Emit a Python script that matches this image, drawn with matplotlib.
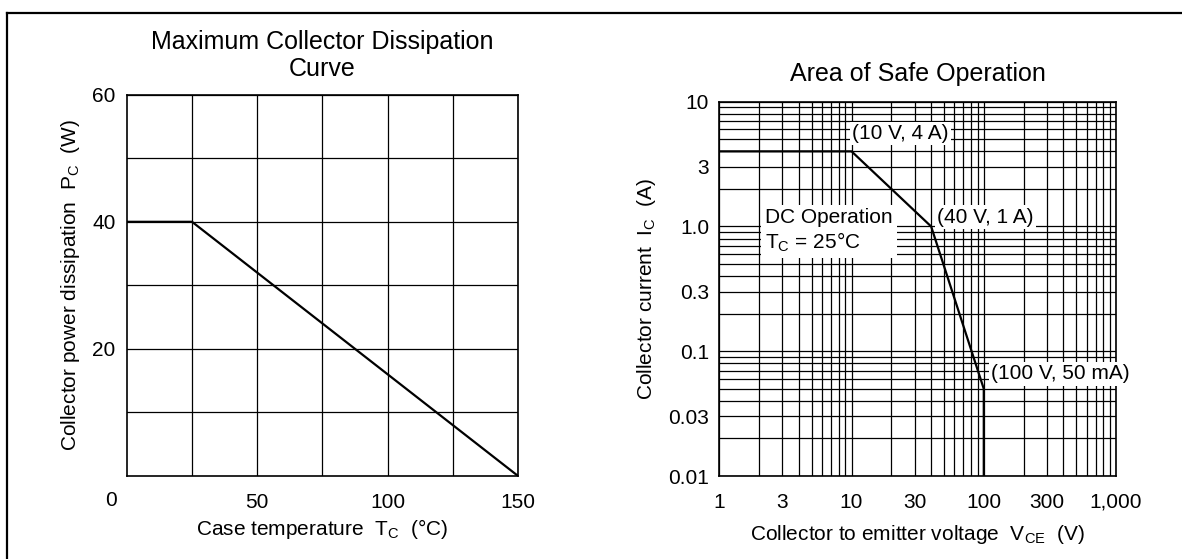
import matplotlib
matplotlib.use('Agg')
import matplotlib.pyplot as plt
from matplotlib.lines import Line2D
from matplotlib.ticker import FixedLocator, LogLocator, NullFormatter

plt.rcParams['font.family'] = ['Liberation Sans', 'DejaVu Sans']
plt.rcParams['mathtext.fontset'] = 'custom'
plt.rcParams['mathtext.rm'] = 'Liberation Sans'
plt.rcParams['mathtext.it'] = 'Liberation Sans:italic'
plt.rcParams['font.size'] = 15

# max collector dissipation curve
tc = [0, 25, 150]
pc = [40, 40, 0]
tc_ticks = [50, 100, 150]
pc_ticks = [20, 40, 60]

# safe operating area
vce = [1, 10, 40, 100, 100]
ic = [4, 4, 1, 0.05, 0.01]
vce_ticks = [1, 3, 10, 30, 100, 300, 1000]
vce_labels = ['1', '3', '10', '30', '100', '300', '1,000']
ic_ticks = [0.01, 0.03, 0.1, 0.3, 1.0, 3, 10]
ic_labels = ['0.01', '0.03', '0.1', '0.3', '1.0', '3', '10']
notes = [('(10 V, 4 A)', 10.15, 5.6),
         ('(40 V, 1 A)', 44.3, 1.19),
         ('(100 V, 50 mA)', 114, 0.0657)]

W, H = 1182, 559
fig = plt.figure(figsize=(W / 100, H / 100), dpi=100)

def px_axes(left, top, width, height):
    return fig.add_axes([left / W, (H - top - height) / H, width / W, height / H])

# frame lines of the page
fig.add_artist(Line2D([6.5 / W, 1], [1 - 12.5 / H] * 2, color='black', lw=1.6))
fig.add_artist(Line2D([6.5 / W] * 2, [0, 1 - 12.5 / H], color='black', lw=1.6))

# ---- left chart
ax1 = px_axes(126.8, 94.7, 391.3, 381.3)
ax1.plot(tc, pc, color='black', lw=1.6, zorder=3)
ax1.set_xlim(0, 150)
ax1.set_ylim(0, 60)
ax1.set_xticks(tc_ticks)
ax1.set_yticks(pc_ticks)
ax1.xaxis.set_minor_locator(FixedLocator([25, 75, 125]))
ax1.yaxis.set_minor_locator(FixedLocator([10, 30, 50]))
ax1.grid(True, which='both', color='black', lw=0.9)
ax1.tick_params(which='both', length=0)
ax1.tick_params(axis='x', pad=12)
ax1.tick_params(axis='y', pad=8)
ax1.annotate('0', xy=(0, 0), xycoords='axes fraction', xytext=(-11.7, -17.8),
             textcoords='offset points', ha='center', va='center')
ax1.set_title('Maximum Collector Dissipation\nCurve', pad=13.7, linespacing=1.14)
ax1.set_xlabel('Case temperature  T$_\\mathrm{C}$  (°C)')
ax1.set_ylabel('Collector power dissipation  P$_\\mathrm{C}$  (W)')
ax1.xaxis.label.set_verticalalignment('baseline')
ax1.yaxis.label.set_verticalalignment('center')
ax1.xaxis.set_label_coords(0.5, -0.1546)
ax1.yaxis.set_label_coords(-0.1436, 0.5)
for s in ax1.spines.values():
    s.set_linewidth(1.2)

# ---- right chart
ax2 = px_axes(719.3, 101.7, 396.7, 374.3)
ax2.plot(vce, ic, color='black', lw=1.6, zorder=3)
ax2.set_xscale('log')
ax2.set_yscale('log')
ax2.set_xlim(1, 1000)
ax2.set_ylim(0.01, 10)
ax2.xaxis.set_major_locator(FixedLocator(vce_ticks))
ax2.set_xticklabels(vce_labels)
ax2.yaxis.set_major_locator(FixedLocator(ic_ticks))
ax2.set_yticklabels(ic_labels)
ax2.xaxis.set_minor_locator(LogLocator(base=10, subs=range(2, 10)))
ax2.yaxis.set_minor_locator(LogLocator(base=10, subs=range(2, 10)))
ax2.xaxis.set_minor_formatter(NullFormatter())
ax2.yaxis.set_minor_formatter(NullFormatter())
ax2.grid(True, which='both', color='black', lw=0.9)
ax2.tick_params(which='both', length=0)
ax2.tick_params(axis='x', pad=12)
ax2.tick_params(axis='y', pad=7.3)
ax2.set_title('Area of Safe Operation', pad=15)
ax2.set_xlabel('Collector to emitter voltage  V$_\\mathrm{CE}$  (V)')
ax2.set_ylabel('Collector current  I$_\\mathrm{C}$  (A)')
ax2.xaxis.label.set_verticalalignment('baseline')
ax2.yaxis.label.set_verticalalignment('center')
ax2.xaxis.set_label_coords(0.5, -0.171)
ax2.yaxis.set_label_coords(-0.184, 0.5)
for s in ax2.spines.values():
    s.set_linewidth(1.2)

box = dict(facecolor='white', edgecolor='none', pad=1.5)
for txt, x, y in notes:
    ax2.text(x, y, txt, ha='left', va='center', bbox=box, zorder=4, clip_on=False)
ax2.text(2.22, 0.92, 'DC Operation\nT$_\\mathrm{C}$ = 25°C', ha='left', va='center',
         bbox=dict(facecolor='white', edgecolor='none', pad=3), zorder=4,
         linespacing=1.2)

fig.savefig('out.png', dpi=100)
